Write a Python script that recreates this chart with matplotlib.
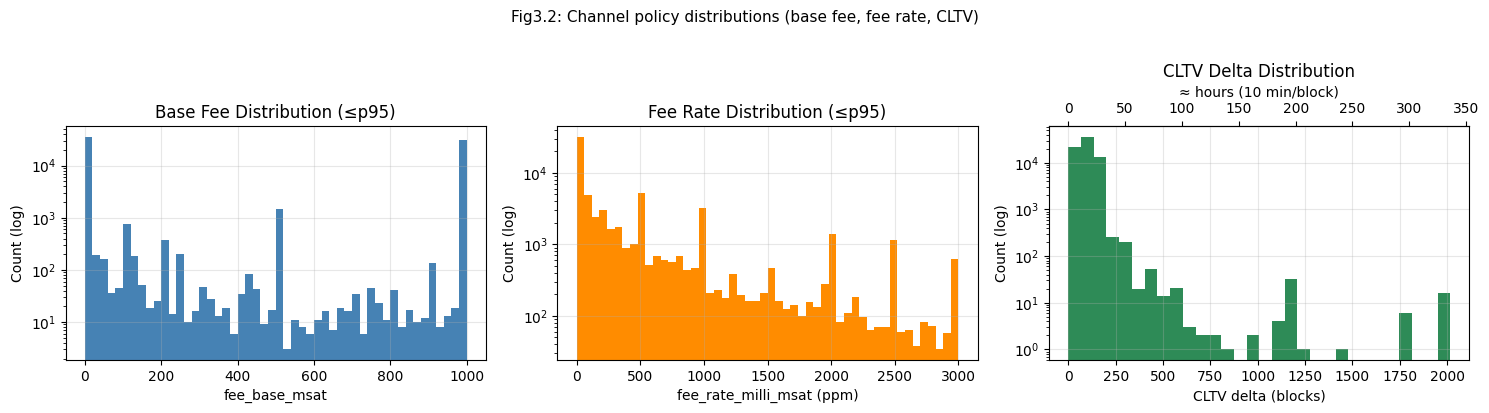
import numpy as np
import matplotlib
matplotlib.use("Agg")
import matplotlib.pyplot as plt

# ---- data ----
base_fee_edges = np.linspace(0, 1000, 51)
base_fee_counts = [36000, 194, 163, 36, 45, 767, 186, 51, 19, 25,
                   378, 14, 203, 10, 16, 47, 28, 13, 19, 6,
                   35, 84, 43, 9, 17, 1490, 3, 11, 8, 6,
                   11, 16, 7, 19, 16, 35, 6, 45, 23, 11,
                   41, 8, 17, 10, 12, 136, 8, 13, 19, 31600]

fee_rate_edges = np.linspace(0, 3000, 51)
fee_rate_counts = [32200, 4980, 2450, 3070, 1665, 1775, 903, 1028, 5310, 522,
                   698, 614, 575, 698, 445, 474, 3275, 212, 233, 180,
                   391, 199, 159, 164, 212, 474, 159, 123, 144, 101,
                   154, 135, 283, 1418, 81, 108, 186, 98, 64, 71,
                   71, 1168, 60, 64, 38, 81, 73, 34, 57, 634]

cltv_edges = np.linspace(0, 2016, 31)
cltv_counts = [22300, 36500, 13600, 252, 197, 20, 52, 14, 21, 3,
               2, 2, 1, 0, 2, 0, 4, 32, 1, 0,
               0, 1, 0, 0, 0, 0, 6, 0, 0, 16]

fig, axes = plt.subplots(1, 3, figsize=(14.89, 4.13), dpi=100)

def draw(ax, edges, counts, color):
    centers = (edges[:-1] + edges[1:]) / 2
    ax.hist(centers, bins=edges, weights=counts, color=color, log=True)
    ax.grid(True, alpha=0.3)

ax = axes[0]
draw(ax, base_fee_edges, base_fee_counts, "steelblue")
ax.set_title("Base Fee Distribution (≤p95)")
ax.set_xlabel("fee_base_msat")
ax.set_ylabel("Count (log)")

ax = axes[1]
draw(ax, fee_rate_edges, fee_rate_counts, "darkorange")
ax.set_title("Fee Rate Distribution (≤p95)")
ax.set_xlabel("fee_rate_milli_msat (ppm)")
ax.set_ylabel("Count (log)")

ax = axes[2]
draw(ax, cltv_edges, cltv_counts, "seagreen")
ax.set_title("CLTV Delta Distribution")
ax.set_xlabel("CLTV delta (blocks)")
ax.set_ylabel("Count (log)")
sec = ax.secondary_xaxis("top", functions=(lambda b: b / 6.0, lambda h: h * 6.0))
sec.set_xlabel("≈ hours (10 min/block)")

fig.suptitle("Fig3.2: Channel policy distributions (base fee, fee rate, CLTV)",
             fontsize=11, y=0.975)
fig.subplots_adjust(left=0.0441, right=0.9868, top=0.695, bottom=0.1283, wspace=0.1705)
fig.savefig("out.png", dpi=100)
